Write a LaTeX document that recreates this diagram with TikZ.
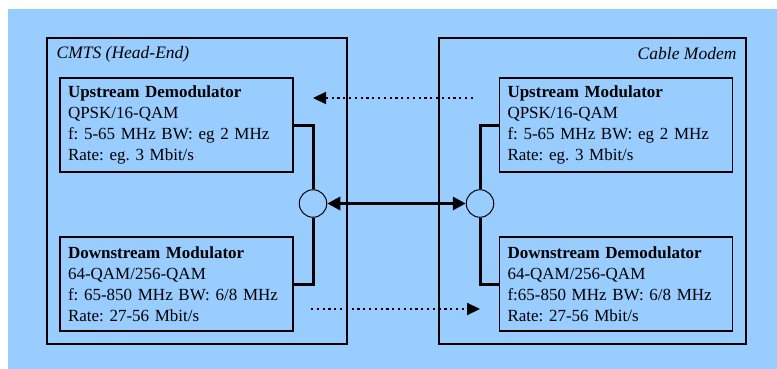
\documentclass[tikz,border=0pt]{standalone}
\usepackage{fontspec}
\setmainfont{Liberation Serif}
\usetikzlibrary{arrows.meta, positioning}
\definecolor{cbg}{HTML}{99CCFF}
\tikzset{
  every picture/.style={line width=1.2pt},
  box/.style={draw=black, rectangle, minimum width=233pt, minimum height=94pt, text width=217pt, inner xsep=8pt, align=left, font=\fontsize{17}{21}\selectfont},
  frame/.style={draw=black, line width=1.3pt},
  wire/.style={draw=black, line width=3pt},
  arrow/.style={{Triangle[length=13pt,width=13pt]}-{Triangle[length=13pt,width=13pt]}, draw=black, line width=3.2pt},
  dotarrow/.style={-{Triangle[length=13pt,width=12pt]}, draw=black, dash pattern=on 2.2pt off 3.6pt, line width=2.2pt},
  tap/.style={circle, draw=black, fill=cbg, line width=1pt, minimum size=27.5pt, inner sep=0pt},
  caption/.style={font=\fontsize{17.5}{21}\selectfont\itshape, inner sep=0pt},
}
\frenchspacing

\begin{document}
\begin{tikzpicture}[x=1pt, y=-1pt]
  \useasboundingbox (0,0) rectangle (777,369);
  \fill[cbg] (8,9) rectangle (777,369);
  % head-end
  \draw[frame] (47,38) rectangle (347,344);
  \node[caption, anchor=west] (cmts) at (56,54) {CMTS (Head-End)};
  \node[box] (ud) at (176.5,125) {\textbf{Upstream Demodulator}\\QPSK/16-QAM\\f: 5-65 MHz BW: eg 2 MHz\\Rate: eg. 3 Mbit/s};
  \node[box] (dm) at (176.5,284) {\textbf{Downstream Modulator}\\64-QAM/256-QAM\\f: 65-850 MHz BW: 6/8 MHz\\Rate: 27-56 Mbit/s};
  \node[tap] (lc) at (313,203.5) {};
  \draw[wire] (ud.east) -| (lc);
  \draw[wire] (lc) |- (dm.east);
  % cable modem
  \draw[frame] (439,38) rectangle (746,344);
  \node[caption, anchor=east] (cm) at (737,54) {Cable Modem};
  \node[box] (um) at (616,125) {\textbf{Upstream Modulator}\\QPSK/16-QAM\\f: 5-65 MHz BW: eg 2 MHz\\Rate: eg. 3 Mbit/s};
  \node[box] (dd) at (616,284) {\textbf{Downstream Demodulator}\\64-QAM/256-QAM\\f:65-850 MHz BW: 6/8 MHz\\Rate: 27-56 Mbit/s};
  \node[tap] (rc) at (480,203.5) {};
  \draw[wire] (um.west) -| (rc);
  \draw[wire] (rc) |- (dd.west);
  % links
  \draw[arrow] (lc) -- (rc);
  \coordinate (upfrom) at (473,98);
  \coordinate (upto) at (lc |- upfrom);
  \draw[dotarrow] (upfrom) -- (upto);
  \coordinate (dnfrom) at (311,309);
  \coordinate (dnto) at (rc |- dnfrom);
  \draw[dotarrow] (dnfrom) -- (dnto);
\end{tikzpicture}
\end{document}
